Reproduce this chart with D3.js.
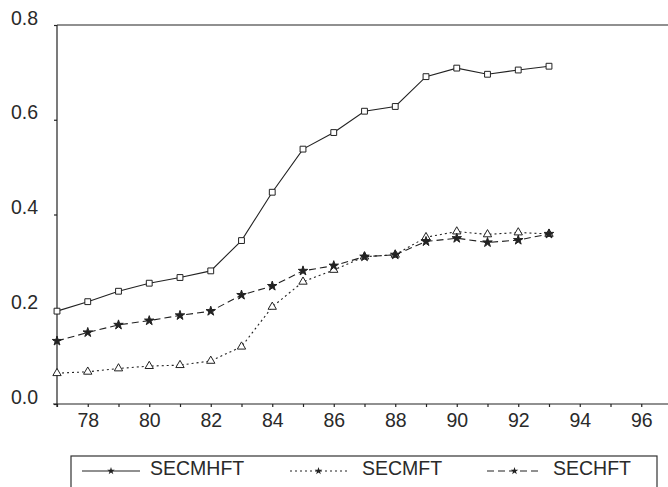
<!DOCTYPE html>
<html>
<head>
<meta charset="utf-8">
<script src="https://cdn.jsdelivr.net/npm/d3@7"></script>
<style>
  body { margin: 0; background: #fff; }
  svg { display: block; font-family: "Liberation Sans", Arial, sans-serif; }
  .axis text { font-size: 19.5px; fill: #2a2a2a; }
  .axis path, .axis line { stroke: #222; stroke-width: 1.2; }
  .legend text { font-size: 19.5px; fill: #2a2a2a; }
</style>
</head>
<body>
<svg width="668" height="487"></svg>
<script>
var years = [77, 78, 79, 80, 81, 82, 83, 84, 85, 86, 87, 88, 89, 90, 91, 92, 93];
var secmhft = [0.196, 0.216, 0.238, 0.255, 0.267, 0.281, 0.345, 0.447, 0.538, 0.573, 0.618, 0.628, 0.691, 0.709, 0.696, 0.705, 0.713];
var secmft = [0.065, 0.068, 0.075, 0.080, 0.082, 0.091, 0.121, 0.205, 0.258, 0.283, 0.311, 0.315, 0.352, 0.364, 0.358, 0.362, 0.359];
var sechft = [0.133, 0.151, 0.167, 0.176, 0.187, 0.196, 0.230, 0.249, 0.281, 0.292, 0.311, 0.315, 0.343, 0.350, 0.341, 0.346, 0.359];
var yTicks = [0.0, 0.2, 0.4, 0.6, 0.8];
var xTickLabels = [78, 80, 82, 84, 86, 88, 90, 92, 94, 96];
var seriesNames = ["SECMHFT", "SECMFT", "SECHFT"];

var svg = d3.select("svg"),
    margin = {top: 25, right: -4, bottom: 83, left: 57},
    width = +svg.attr("width") - margin.left - margin.right,
    height = +svg.attr("height") - margin.top - margin.bottom;

var x = d3.scaleLinear().domain([77, 97]).range([0, width]),
    y = d3.scaleLinear().domain([0, 0.8]).range([height, 0]);

var g = svg.append("g")
    .attr("transform", "translate(" + margin.left + "," + margin.top + ")");

// frame top line
g.append("line")
    .attr("x1", 0).attr("x2", width)
    .attr("y1", 0).attr("y2", 0)
    .attr("stroke", "#222").attr("stroke-width", 1.2);

g.append("g")
    .attr("class", "axis axis--x")
    .attr("transform", "translate(0," + height + ")")
    .call(d3.axisBottom(x).tickValues(d3.range(77, 98)).tickSize(3).tickPadding(6)
      .tickFormat(function(d){ return xTickLabels.indexOf(d) >= 0 ? d : ""; }))
    .call(function(a){ a.select(".domain").attr("d", "M-4,0H" + width); });

g.append("g")
    .attr("class", "axis axis--y")
    .call(d3.axisLeft(y).tickValues(yTicks).tickSize(3).tickPadding(16)
      .tickFormat(d3.format(".1f")))
    .call(function(a){
      a.select(".domain").attr("d", "M0,0V" + (height + 3));
      a.selectAll("text").attr("dy", "-0.05em");
    });

var series = [
  {name: seriesNames[0], values: secmhft, dash: null, symbol: d3.symbolSquare, size: 34, fill: "#fff"},
  {name: seriesNames[1], values: secmft, dash: "2,3", symbol: d3.symbolTriangle, size: 30, fill: "#fff"},
  {name: seriesNames[2], values: sechft, dash: "7,4", symbol: d3.symbolStar, size: 28, fill: "#222"}
];

var line = d3.line()
    .x(function(d, i){ return x(years[i]); })
    .y(function(d){ return y(d); });

series.forEach(function(s){
  g.append("path")
      .attr("d", line(s.values))
      .attr("fill", "none")
      .attr("stroke", "#222")
      .attr("stroke-width", 1.1)
      .attr("stroke-dasharray", s.dash);

  g.selectAll(null).data(s.values).enter().append("path")
      .attr("transform", function(d, i){ return "translate(" + x(years[i]) + "," + y(d) + ")"; })
      .attr("d", d3.symbol().type(s.symbol).size(s.size))
      .attr("fill", s.fill)
      .attr("stroke", "#222")
      .attr("stroke-width", 1);
});

// legend
var legend = svg.append("g").attr("class", "legend");
legend.append("rect")
    .attr("x", 71).attr("y", 456)
    .attr("width", 586).attr("height", 60)
    .attr("fill", "none").attr("stroke", "#333").attr("stroke-width", 1.2);

var legendPos = [
  {x1: 82, x2: 140, tx: 150},
  {x1: 290, x2: 347, tx: 362},
  {x1: 487, x2: 542, tx: 553}
];

series.forEach(function(s, i){
  var p = legendPos[i];
  legend.append("line")
      .attr("x1", p.x1).attr("x2", p.x2)
      .attr("y1", 471).attr("y2", 471)
      .attr("stroke", "#222").attr("stroke-width", 1.1)
      .attr("stroke-dasharray", s.dash);
  legend.append("path")
      .attr("transform", "translate(" + ((p.x1 + p.x2) / 2) + ",471)")
      .attr("d", d3.symbol().type(d3.symbolStar).size(18))
      .attr("fill", "#222");
  legend.append("text")
      .attr("x", p.tx).attr("y", 475)
      .text(s.name);
});
</script>
</body>
</html>
